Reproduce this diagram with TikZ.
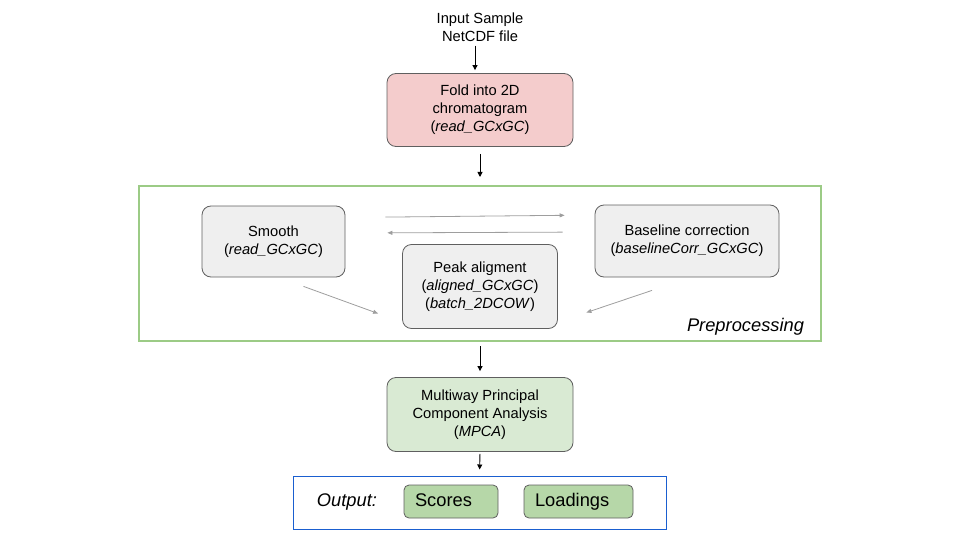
\documentclass[tikz,border=0pt]{standalone}
\usepackage{fontspec}
\setmainfont{Liberation Sans}
\usepackage{xcolor}
\usepackage{tikz}
\usetikzlibrary{arrows.meta}
\definecolor{foldpink}{HTML}{F4CCCC}
\definecolor{stepgray}{HTML}{EFEFEF}
\definecolor{mpcagreen}{HTML}{D9EAD3}
\definecolor{outgreen}{HTML}{B6D7A8}
\definecolor{prepgreen}{HTML}{9CCB86}
\definecolor{outblue}{HTML}{1A5FD0}
\definecolor{edgegray}{HTML}{5F5F5F}
\definecolor{sidegray}{HTML}{9E9E9E}
\newcommand\txt{\fontsize{14.7}{18}\selectfont}
\newcommand\bigtxt{\fontsize{18.3}{22}\selectfont}
\tikzstyle{stage}=[draw=edgegray,line width=.8pt,rounded corners=9pt,align=center,inner sep=0pt,font=\txt]
\tikzstyle{pill}=[draw=edgegray,line width=.8pt,rounded corners=5pt,fill=outgreen,inner ysep=0pt,inner xsep=11pt,align=left,font=\bigtxt,text height=13pt,text depth=4pt,minimum height=33]
\tikzstyle{flowhead}=[>/.tip={Triangle[length=5pt,width=5pt]}]
\tikzstyle{flow}=[line width=.9pt,flowhead,->]
\tikzstyle{side}=[line width=.8pt,draw=sidegray,>/.tip={Triangle[length=5pt,width=4pt]},->]
\begin{document}
\begin{tikzpicture}[x=1pt,y=-1pt]
	\useasboundingbox (0,0) rectangle (960,540);
	\node[align=center,inner sep=0pt,font=\txt] (In) at (480,27) {Input Sample\\NetCDF file};
	\node[stage,fill=foldpink,minimum width=186,minimum height=73] (Fold) at (480,110) {Fold into 2D\\chromatogram\\(\textit{read\_GCxGC})};
	\node[draw=prepgreen,line width=2pt,minimum width=682,minimum height=155] (Prep) at (480,263.5) {};
	\node[font=\bigtxt\itshape] (PrepLabel) at (745.5,327) {Preprocessing};
	\node[stage,fill=stepgray,minimum width=143,minimum height=71] (Smooth) at (273.5,241.5) {Smooth\\(\textit{read\_GCxGC})};
	\node[stage,fill=stepgray,minimum width=184,minimum height=72] (Base) at (687,241) {Baseline correction\\(\textit{baselineCorr\_GCxGC})};
	\node[stage,fill=stepgray,minimum width=155,minimum height=84] (Peak) at (480,286.5) {Peak aligment\\(\textit{aligned\_GCxGC})\\(\textit{batch\_2DCOW})};
	\node[stage,fill=mpcagreen,minimum width=186,minimum height=74] (MPCA) at (480,414.5) {Multiway Principal\\Component Analysis\\(\textit{MPCA})};
	\node[draw=outblue,line width=1pt,minimum width=373,minimum height=53] (Out) at (479.5,502.5) {};
	\node[font=\bigtxt\itshape] (OutLabel) at (347,502) {Output:};
	\node[pill,text width=72] (Scores) at (451,501.5) {Scores};
	\node[pill,text width=87] (Load) at (578.5,501.5) {Loadings};
	\draw[flow,shorten <=4pt,shorten >=3pt] ([xshift=-5pt]In.south) -- ([xshift=-5pt]Fold.north);
	\draw[flow,shorten <=7pt,shorten >=8pt] (Fold.south) -- (Prep.north);
	\draw[flow,shorten <=4pt,shorten >=6pt] (Prep.south) -- (MPCA.north);
	\draw[flow,shorten <=2pt,shorten >=6pt] (MPCA.south) -- (Out.north);
	\draw[side,shorten <=40pt,shorten >=30pt] ([yshift=24pt]Smooth.east) -- ([yshift=26pt]Base.west);
	\draw[side,shorten <=32pt,shorten >=42pt] ([yshift=9pt]Base.west) -- ([yshift=8.5pt]Smooth.east);
	\draw[side] ([xshift=30pt,yshift=-9pt]Smooth.south) -- ([xshift=-24pt,yshift=-27pt]Peak.west);
	\draw[side] ([xshift=-35pt,yshift=-13pt]Base.south) -- ([xshift=28.5pt,yshift=-26pt]Peak.east);
\end{tikzpicture}
\end{document}
